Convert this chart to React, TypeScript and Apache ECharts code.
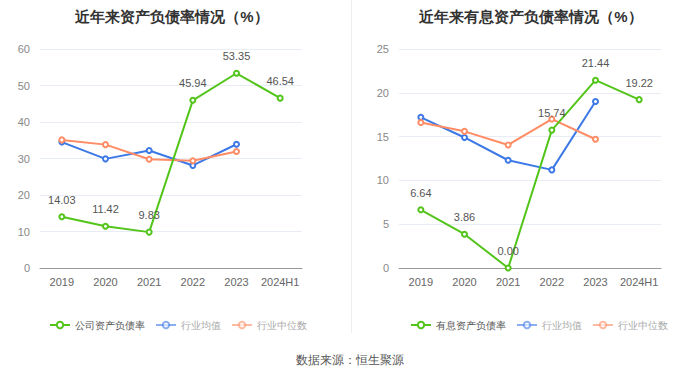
import React, { useEffect, useRef } from "react";
import * as echarts from "echarts";

const categories = ["2019", "2020", "2021", "2022", "2023", "2024H1"];
const companyDebt = [14.03, 11.42, 9.83, 45.94, 53.35, 46.54];
const industryAvgDebt = [34.5, 29.9, 32.2, 28.1, 33.9, null];
const industryMedDebt = [35.1, 33.8, 29.8, 29.4, 31.9, null];
const interestDebt = [6.64, 3.86, 0.0, 15.74, 21.44, 19.22];
const industryAvgInterest = [17.2, 14.9, 12.3, 11.2, 19.0, null];
const industryMedInterest = [16.6, 15.6, 14.05, 17.0, 14.7, null];

const GREEN = "#52c41a";
const BLUE = "#3c78e6";
const ORANGE = "#ff8c64";

export default function App() {
  const ref = useRef<HTMLDivElement>(null);
  useEffect(() => {
    document.body.style.margin = "0";
    const chart = echarts.init(ref.current!, null, { renderer: "svg" });
    const axisX = (gi: number) => ({
      type: "category",
      gridIndex: gi,
      data: categories,
      boundaryGap: true,
      axisLine: { lineStyle: { color: "#999" } },
      axisTick: { alignWithLabel: true, lineStyle: { color: "#999" } },
      axisLabel: { color: "#666", fontSize: 11, margin: 8, interval: 0 },
    });
    const axisY = (gi: number, max: number, interval: number) => ({
      type: "value",
      gridIndex: gi,
      min: 0,
      max,
      interval,
      axisLine: { show: false },
      axisTick: { show: false },
      axisLabel: { color: "#888", fontSize: 11, margin: 10 },
      splitLine: { lineStyle: { color: "#e8edf5" } },
    });
    const lineSeries = (name: string, data: any[], color: string, gi: number, label: boolean) => ({
      name,
      type: "line",
      xAxisIndex: gi,
      yAxisIndex: gi,
      data,
      symbol: "emptyCircle",
      symbolSize: 5,
      lineStyle: { color, width: 2 },
      itemStyle: { color },
      label: label
        ? { show: true, position: "top", color: "#555", fontSize: 11, distance: 8, formatter: (p: any) => p.value.toFixed(2) }
        : { show: false },
      z: label ? 3 : 2,
    });
    const legendData = (first: string) => [
      { name: first, textStyle: { color: "#555" } },
      { name: "行业均值", textStyle: { color: "#aaa" }, itemStyle: { opacity: 0.6 }, lineStyle: { opacity: 0.6 } },
      { name: "行业中位数", textStyle: { color: "#aaa" }, itemStyle: { opacity: 0.6 }, lineStyle: { opacity: 0.6 } },
    ];
    const legendBase = { top: 315, itemWidth: 20, itemHeight: 8, itemGap: 10, textStyle: { fontSize: 10 } };
    chart.setOption({
      animation: false,
      title: [
        { text: "近年来资产负债率情况（%）", left: 167, textAlign: "center", top: 4, textStyle: { fontSize: 15, fontWeight: "bold", color: "#333" } },
        { text: "近年来有息资产负债率情况（%）", left: 526, textAlign: "center", top: 4, textStyle: { fontSize: 15, fontWeight: "bold", color: "#333" } },
      ],
      legend: [
        { ...legendBase, left: 44, data: legendData("公司资产负债率") },
        { ...legendBase, left: 405, data: legendData("有息资产负债率") },
      ],
      grid: [
        { left: 40, top: 49, width: 262, height: 219 },
        { left: 399, top: 49, width: 262, height: 219 },
      ],
      xAxis: [axisX(0), axisX(1)],
      yAxis: [axisY(0, 60, 10), axisY(1, 25, 5)],
      series: [
        lineSeries("公司资产负债率", companyDebt, GREEN, 0, true),
        lineSeries("行业均值", industryAvgDebt, BLUE, 0, false),
        lineSeries("行业中位数", industryMedDebt, ORANGE, 0, false),
        lineSeries("有息资产负债率", interestDebt, GREEN, 1, true),
        lineSeries("行业均值", industryAvgInterest, BLUE, 1, false),
        lineSeries("行业中位数", industryMedInterest, ORANGE, 1, false),
      ],
      graphic: [
        { type: "line", shape: { x1: 351.5, y1: 0, x2: 351.5, y2: 333 }, style: { stroke: "#eeeeee", lineWidth: 1 } },
        { type: "text", x: 350, y: 360, style: { text: "数据来源：恒生聚源", fill: "#555", fontSize: 12, textAlign: "center", textVerticalAlign: "middle" } },
      ],
    });
    return () => chart.dispose();
  }, []);
  return <div ref={ref} style={{ width: 700, height: 378 }} />;
}
